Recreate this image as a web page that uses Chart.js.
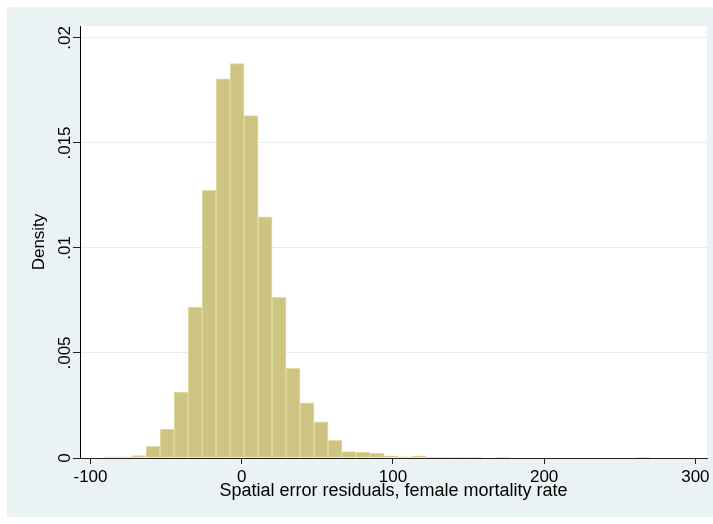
<!DOCTYPE html>
<html><head><meta charset="utf-8">
<script src="https://cdn.jsdelivr.net/npm/chart.js@4/dist/chart.umd.min.js"></script>
<style>html,body{margin:0;padding:0;background:#fff}canvas{display:block}</style>
</head><body>
<canvas id="c" width="713" height="524"></canvas>
<script>
// ---- data ----
const binStart = -91;      // lower edge of first bin
const binWidth = 9.256;    // bin width
const density = [
  0.00005, 0.00005, 0.00012, 0.00055, 0.00138, 0.00314, 0.00719, 0.01275,
  0.01805, 0.01878, 0.01630, 0.01148, 0.00765, 0.00427, 0.00263, 0.00172,
  0.00084, 0.00030, 0.00028, 0.00023, 0.00010, 0.00006, 0.00010, 0.00003,
  0.00003, 0.00003, 0.00003, 0, 0.00003, 0, 0, 0,
  0, 0, 0, 0, 0, 0, 0.00003
];
const xTicks = [-100, 0, 100, 200, 300];
const yTicks = [0, 0.005, 0.01, 0.015, 0.02];
const yTickLabels = ['0', '.005', '.01', '.015', '.02'];
const xTitle = 'Spatial error residuals, female mortality rate';
const yTitle = 'Density';

const points = density.map((d, i) => ({ x: binStart + binWidth * (i + 0.5), y: d }));
const FONT = "'Liberation Sans', Arial, sans-serif";

const bgPlugin = {
  id: 'bg',
  beforeDraw(chart) {
    const ctx = chart.ctx, a = chart.chartArea;
    ctx.save();
    ctx.fillStyle = '#ffffff';
    ctx.fillRect(0, 0, chart.width, chart.height);
    ctx.fillStyle = '#EAF2F3';
    ctx.fillRect(7, 7, chart.width - 7, 510);
    ctx.fillStyle = '#ffffff';
    ctx.fillRect(a.left, a.top, a.right - a.left, a.bottom - a.top);
    ctx.restore();
  }
};
const yLabelPlugin = {
  id: 'ylab',
  afterDraw(chart) {
    const ctx = chart.ctx, s = chart.scales.y;
    ctx.save();
    ctx.fillStyle = '#000';
    ctx.font = '17px ' + FONT;
    ctx.textAlign = 'center';
    ctx.textBaseline = 'alphabetic';
    yTicks.forEach((v, i) => {
      const py = s.getPixelForValue(v);
      ctx.save();
      ctx.translate(70, py);
      ctx.rotate(-Math.PI / 2);
      ctx.fillText(yTickLabels[i], 0, 0);
      ctx.restore();
    });
    ctx.restore();
  }
};

new Chart(document.getElementById('c'), {
  type: 'bar',
  data: {
    datasets: [{
      data: points,
      backgroundColor: '#CCC480',
      borderColor: '#E2DDA8',
      borderWidth: 1,
      borderSkipped: 'start',
      barPercentage: 1,
      categoryPercentage: 1,
      grouped: false
    }]
  },
  plugins: [bgPlugin, yLabelPlugin],
  options: {
    responsive: false,
    animation: false,
    events: [],
    layout: { padding: { top: 26, right: 6, bottom: 0, left: 0 } },
    plugins: { legend: { display: false }, tooltip: { enabled: false } },
    scales: {
      x: {
        type: 'linear',
        offset: false,
        min: -106.94,
        max: 307.7,
        afterBuildTicks(s) { s.ticks = xTicks.map(v => ({ value: v })); },
        afterFit(s) { s.height = 66; },
        grid: { offset: false, drawOnChartArea: false, drawTicks: true, tickLength: 6, tickColor: '#222', lineWidth: 1 },
        border: { color: '#222', width: 1 },
        ticks: { font: { family: FONT, size: 17 }, color: '#000', padding: 3, maxRotation: 0, autoSkip: false },
        title: { display: true, text: xTitle, color: '#000', font: { family: FONT, size: 18, lineHeight: 1.2 }, padding: { top: 0, bottom: 22 } }
      },
      y: {
        min: 0,
        max: 0.02057,
        afterBuildTicks(s) { s.ticks = yTicks.map(v => ({ value: v })); },
        afterFit(s) { s.width = 80; },
        grid: { offset: false, color: '#E4EDEF', lineWidth: 1, drawTicks: true, tickLength: 7, tickColor: '#222' },
        border: { color: '#000', width: 1 },
        ticks: { display: false },
        title: { display: true, text: yTitle, color: '#000', font: { family: FONT, size: 17, lineHeight: 1.2 }, padding: { top: 29, bottom: 0 } }
      }
    }
  }
});
</script>
</body></html>
